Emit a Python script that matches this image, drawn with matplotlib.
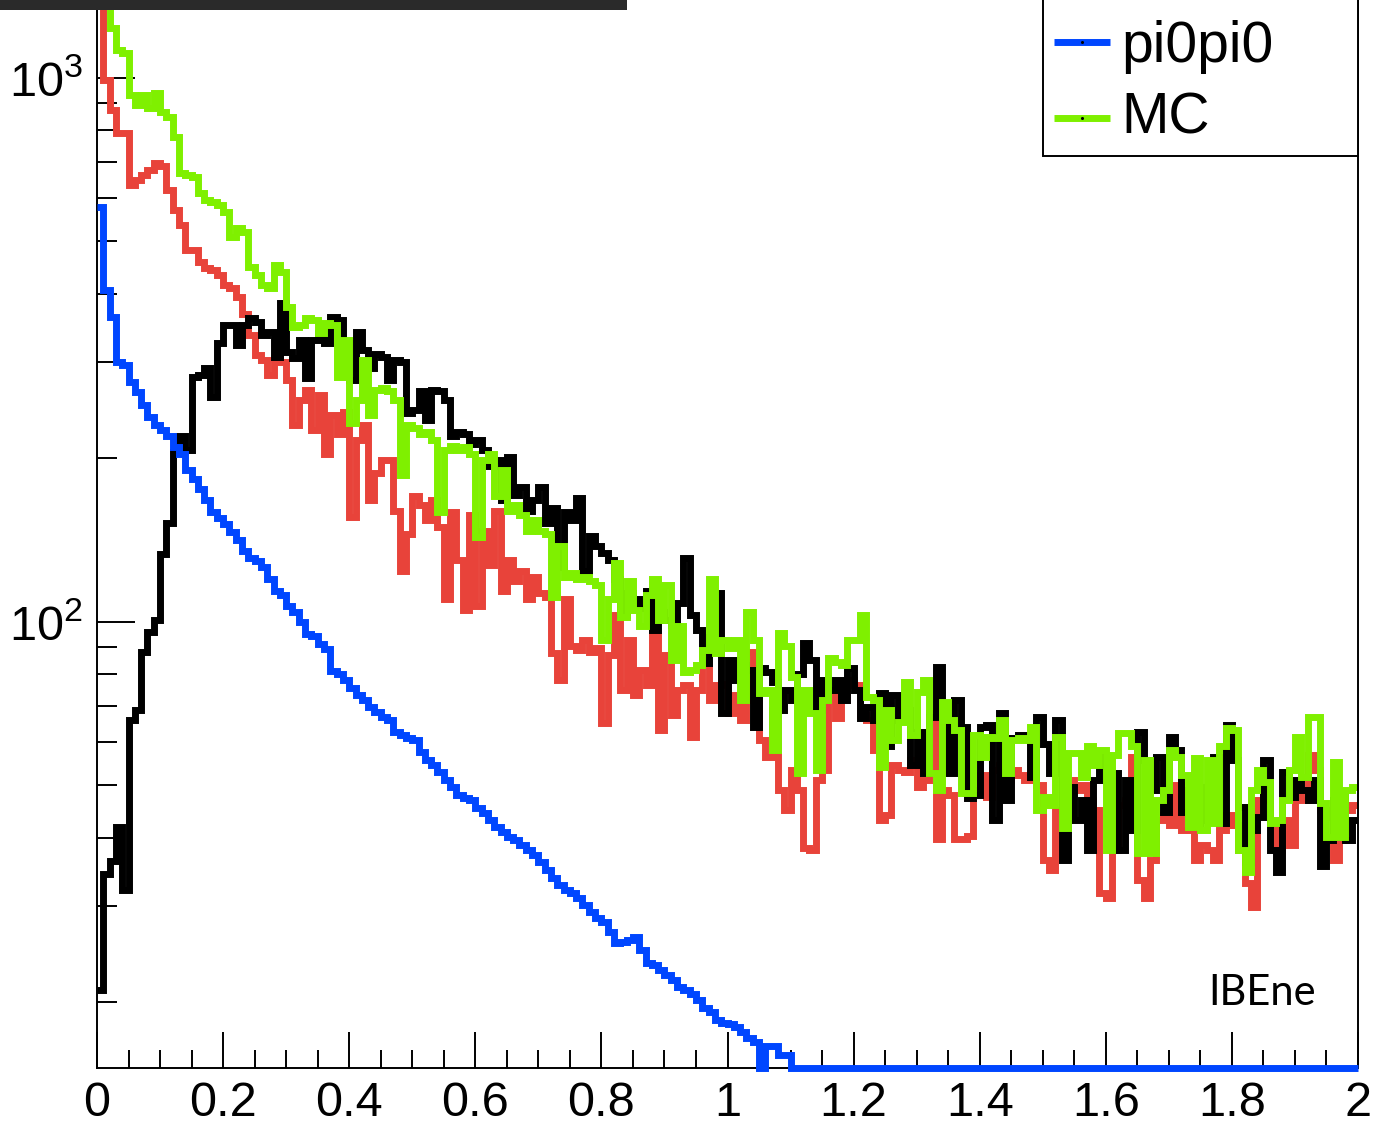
import numpy as np
import matplotlib
matplotlib.use("Agg")
import matplotlib.pyplot as plt
from matplotlib.ticker import MultipleLocator, LogLocator, FuncFormatter, NullFormatter
from matplotlib.patches import Rectangle
from matplotlib.lines import Line2D

plt.rcParams['font.family'] = ['Liberation Sans', 'DejaVu Sans']
plt.rcParams['mathtext.fontset'] = 'custom'
plt.rcParams['mathtext.rm'] = 'Liberation Sans'
plt.rcParams['mathtext.it'] = 'Liberation Sans:italic'
plt.rcParams['mathtext.bf'] = 'Liberation Sans:bold'

# ---------------- data (200 bins, 0..2) ----------------
x_range = (0.0, 2.0)
n_bins = 200

blue_pi0pi0 = [
    578, 407, 363, 300, 296, 276, 264, 250, 238, 230,
    225, 219, 209, 203, 190, 183, 175, 167, 159, 155,
    151, 146, 141, 135, 131, 129, 126, 120, 114, 112,
    107, 104, 100, 95, 94, 91, 89, 81, 80, 78,
    75.5, 73.3, 71.8, 69.7, 68.2, 66.8, 66.0, 62.7, 61.9, 61.1,
    60.6, 57.6, 55.7, 54.5, 53.0, 51.2, 49.7, 48.0, 47.4, 47.0,
    45.5, 44.5, 43.2, 42.0, 41.1, 40.2, 39.7, 38.9, 38.1, 37.3,
    36.1, 35.0, 33.8, 32.8, 32.1, 31.7, 31.1, 30.2, 29.3, 28.5,
    28.0, 26.9, 25.7, 25.8, 26.0, 26.3, 24.9, 23.6, 23.4, 22.9,
    22.4, 21.9, 21.3, 21.0, 20.7, 20.2, 19.5, 19.2, 18.5, 18.3,
    18.2, 18.0, 17.6, 17.2, 16.9, 14.0, 16.6, 16.6, 16.0, 16.0,
    0, 0, 0, 0, 0, 0, 0, 0, 0, 0,
    0, 0, 0, 0, 0, 0, 0, 0, 0, 0,
    0, 0, 0, 0, 0, 0, 0, 0, 0, 0,
    0, 0, 0, 0, 0, 0, 0, 0, 0, 0,
    0, 0, 0, 0, 0, 0, 0, 0, 0, 0,
    0, 0, 0, 0, 0, 0, 0, 0, 0, 0,
    0, 0, 0, 0, 0, 0, 0, 0, 0, 0,
    0, 0, 0, 0, 0, 0, 0, 0, 0, 0,
    0, 0, 0, 0, 0, 0, 0, 0, 0, 0,
]

green_mc = [
    1750, 1520, 1234, 1124, 1110, 929, 890, 929, 879, 936,
    865, 847, 778, 668, 662, 656, 613, 596, 591, 583,
    566, 509, 529, 520, 449, 434, 416, 411, 453, 439,
    379, 348, 351, 362, 359, 339, 354, 351, 282, 329,
    232, 256, 303, 240, 267, 269, 265, 256, 186, 230,
    227, 221, 223, 216, 159, 207, 210, 207, 209, 203,
    143, 198, 203, 170, 190, 160, 164, 157, 147, 154,
    147, 145, 111, 138, 121, 123, 120, 121, 119, 117,
    92.5, 110, 128, 102, 119, 105, 98, 112, 120, 100.7,
    117, 85, 98, 80.8, 81.5, 83.2, 88.7, 120, 87.5, 92.5,
    89.6, 92.5, 71.8, 104, 92.5, 74, 74.9, 58.1, 95.2, 90.3,
    79.2, 52.7, 74.9, 67.9, 53.4, 71.8, 85.7, 84.3, 83.2, 92.5,
    92.5, 102.8, 72.8, 71.8, 54.1, 68.8, 60.6, 65.4, 77.4, 61.9,
    74.2, 78.1, 52.7, 49.1, 71.2, 66.0, 63.2, 48.5, 48.5, 61.9,
    56.4, 61.4, 61.1, 66.0, 52.7, 60.6, 61.1, 60.6, 64.0, 45.1,
    47.6, 46.0, 61.4, 41.8, 57.3, 57.3, 51.8, 59.1, 54.5, 58.1,
    38.1, 56.9, 62.5, 62.5, 59.1, 37.6, 55.7, 37.6, 47.0, 49.1,
    58.1, 56.4, 52.2, 42.0, 56.2, 41.4, 55.7, 42.7, 59.1, 63.8,
    63.2, 38.1, 34.6, 49.1, 53.4, 50.8, 42.7, 43.2, 47.0, 53.4,
    61.4, 51.8, 66.8, 66.8, 46.4, 40.2, 55.1, 40.2, 49.1, 49.7,
]

red_hist = [
    1500, 990, 872, 791, 791, 635, 648, 662, 675, 698,
    689, 621, 571, 537, 482, 482, 458, 447, 443, 434,
    416, 411, 395, 367, 336, 309, 303, 284, 305, 300,
    278, 230, 256, 267, 225, 261, 203, 240, 221, 243,
    156, 216, 230, 167, 188, 198, 198, 160, 124, 145,
    170, 164, 154, 167, 149, 110, 159, 130, 105, 157,
    107, 147, 127, 160, 114, 130, 119, 124, 110, 121,
    113, 111, 87.5, 78.1, 110, 90.3, 88.7, 92.5, 87.9, 89.4,
    65.1, 86.7, 102.8, 74.9, 92.5, 73.3, 81.5, 76.5, 95.2, 63.2,
    86.7, 67.4, 74.9, 76.5, 61.4, 74.9, 84.0, 71.8, 76.5, 76.8,
    67.9, 73.3, 66.0, 87.9, 71.8, 60.6, 56.4, 68.8, 49.1, 45.1,
    53.4, 49.1, 38.4, 38.1, 51.2, 53.4, 74.9, 66.6, 71.8, 78.1,
    76.5, 67.4, 66.0, 58.1, 43.2, 44.1, 54.5, 53.4, 53.0, 55.7,
    49.7, 51.2, 67.9, 39.9, 49.1, 48.0, 39.9, 39.9, 40.4, 49.1,
    52.2, 47.6, 53.4, 54.5, 51.2, 53.4, 52.2, 51.2, 52.0, 50.1,
    36.5, 35.0, 45.1, 52.2, 51.2, 49.1, 50.1, 47.0, 45.1, 31.7,
    31.1, 38.1, 46.0, 47.0, 56.4, 33.5, 31.1, 36.5, 43.2, 44.1,
    42.3, 50.1, 41.4, 49.1, 36.5, 38.9, 38.1, 36.5, 41.4, 44.1,
    42.3, 38.1, 33.1, 29.9, 47.0, 49.1, 42.7, 38.1, 43.2, 38.9,
    48.5, 47.0, 56.9, 53.4, 45.1, 43.8, 36.5, 39.7, 45.1, 46.0,
]

black_data = [
    21.0, 34.4, 36.3, 42.0, 32.1, 66.0, 68.8, 88.0, 95.7, 100.7,
    133, 152, 205, 219, 207, 282, 284, 293, 259, 325,
    351, 351, 322, 351, 362, 356, 336, 341, 306, 385,
    313, 305, 329, 280, 329, 339, 325, 363, 359, 325,
    278, 341, 316, 293, 311, 306, 278, 303, 300, 242,
    245, 265, 235, 267, 265, 256, 219, 223, 221, 212,
    216, 207, 193, 198, 167, 201, 171, 177, 160, 167,
    177, 152, 162, 126, 159, 154, 169, 124, 144, 138,
    134, 130, 120, 102.8, 113, 110, 106, 114, 96.5, 104,
    100.7, 98.6, 108, 131, 103, 96.5, 84.0, 93.7, 113, 67.9,
    85.0, 78.1, 83.2, 81.5, 64.0, 82.2, 80.8, 77.4, 68.8, 74.9,
    71.8, 80.1, 91.3, 85.0, 68.8, 78.1, 74.9, 78.1, 71.8, 82.2,
    74.9, 66.6, 69.7, 66.0, 74.0, 59.1, 73.3, 66.0, 68.8, 54.5,
    62.7, 52.7, 66.8, 82.5, 66.0, 52.7, 71.8, 64.0, 47.4, 48.0,
    64.0, 64.5, 43.2, 67.9, 47.0, 61.1, 61.9, 61.1, 51.8, 66.8,
    59.6, 52.7, 66.0, 36.5, 49.7, 43.2, 47.0, 38.1, 51.2, 56.4,
    51.2, 52.7, 38.1, 51.2, 41.4, 62.7, 55.7, 49.1, 56.4, 44.6,
    61.4, 58.1, 44.6, 49.1, 42.7, 49.7, 43.2, 56.4, 42.7, 64.5,
    55.7, 45.7, 36.1, 41.4, 43.8, 55.7, 38.1, 34.6, 53.0, 47.6,
    51.2, 49.1, 47.0, 51.2, 35.5, 39.7, 47.0, 48.5, 39.7, 43.2,
]

legend_labels = ["pi0pi0", "MC"]
annotation = "IBEne"

# ---------------- style ----------------
BLUE = '#0046ff'
GREEN = '#7ff000'
RED = '#e8433a'
BLACK = '#000000'
Y_MIN, Y_MAX = 15.12, 1389
LW = 5.0

W, H = 1373, 1123
fig = plt.figure(figsize=(W / 100, H / 100), dpi=100)
fig.patch.set_facecolor('white')

ax = fig.add_axes([97 / W, 1 - 1068 / H, (1358 - 97) / W, 1068 / H])
ax.set_yscale('log')
ax.set_xlim(*x_range)
ax.set_ylim(Y_MIN, Y_MAX)

edges = np.linspace(x_range[0], x_range[1], n_bins + 1)

ax.stairs(np.asarray(red_hist, float), edges, baseline=None, color=RED, lw=LW, zorder=2.0)
ax.stairs(np.asarray(black_data, float), edges, baseline=None, color=BLACK, lw=LW, zorder=2.1)
ax.stairs(np.asarray(green_mc, float), edges, baseline=None, color=GREEN, lw=LW, zorder=2.2)
blue_draw = np.maximum(np.asarray(blue_pi0pi0, float), Y_MIN)
ax.stairs(blue_draw, edges, baseline=None, color=BLUE, lw=LW, zorder=2.7, clip_on=False)

# axes / ticks
for s in ['left', 'bottom', 'right']:
    ax.spines[s].set_linewidth(1.4)
ax.spines['top'].set_visible(False)

ax.xaxis.set_major_locator(MultipleLocator(0.2))
ax.xaxis.set_minor_locator(MultipleLocator(0.05))
ax.xaxis.set_major_formatter(FuncFormatter(lambda v, p: f"{v:g}"))
ax.yaxis.set_major_locator(LogLocator(base=10, numticks=10))
ax.yaxis.set_minor_locator(LogLocator(base=10, subs=range(2, 10), numticks=20))
ax.yaxis.set_minor_formatter(NullFormatter())

ax.tick_params(axis='x', which='major', direction='in', length=26, width=1.4,
               labelsize=35, pad=9, top=False)
ax.tick_params(axis='x', which='minor', direction='in', length=13, width=1.4, top=False)
ax.tick_params(axis='y', which='major', direction='in', length=27, width=1.4,
               labelsize=35, pad=10, right=False)
ax.tick_params(axis='y', which='minor', direction='in', length=14.5, width=1.4, right=False)

# legend box (drawn in figure pixels)
def fx(px):
    return px / W

def fy(py):
    return 1 - py / H

leg_box = Rectangle((fx(1043), fy(156)), fx(1358) - fx(1043), 0.3,
                    transform=fig.transFigure, facecolor='white', edgecolor='black',
                    lw=1.4, zorder=5)
fig.add_artist(leg_box)
for lab, col, ly, by in [(legend_labels[0], BLUE, 42, 62), (legend_labels[1], GREEN, 118, 133)]:
    fig.add_artist(Line2D([fx(1054), fx(1110)], [fy(ly), fy(ly)], color=col, lw=LW,
                          transform=fig.transFigure, zorder=6, solid_capstyle='butt'))
    fig.add_artist(Line2D([fx(1082)], [fy(ly)], marker='o', markersize=1.2, color='black',
                          transform=fig.transFigure, zorder=7))
    fig.text(fx(1121), fy(by), lab, fontsize=41, va='baseline', ha='left', zorder=7)

fig.text(fx(1208), fy(1005), annotation, fontsize=30, family=['Lato', 'DejaVu Sans'],
         va='baseline', ha='left')

# screenshot bar at the very top-left
fig.add_artist(Rectangle((0, fy(10)), fx(627), 10 / H, transform=fig.transFigure,
                         facecolor='#2a2a2a', edgecolor='none', zorder=20))

fig.savefig('out.png', dpi=100)
